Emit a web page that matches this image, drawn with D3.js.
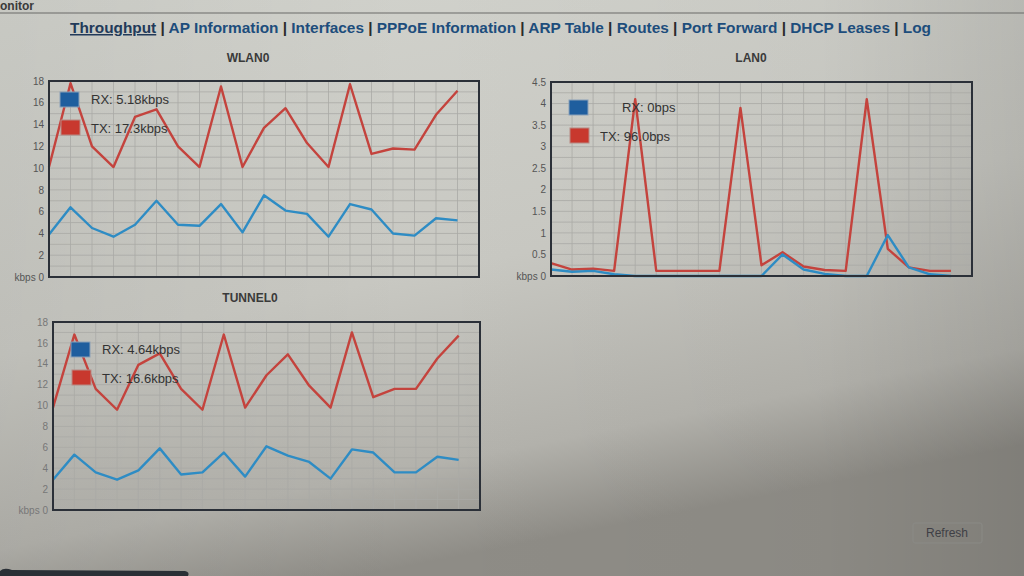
<!DOCTYPE html>
<html><head><meta charset="utf-8">
<script src="https://cdn.jsdelivr.net/npm/d3@7"></script>
<style>html,body{margin:0;padding:0;overflow:hidden;background:#c4c4be}</style>
</head><body><svg id="c" width="1024" height="576"></svg>
<script>
// ---------- data ----------
const navItems = ["Throughput","AP Information","Interfaces","PPPoE Information","ARP Table","Routes","Port Forward","DHCP Leases","Log"];
const samples = d3.range(20);
const wlanRx = [3.9,6.4,4.5,3.7,4.8,7.0,4.8,4.7,6.7,4.1,7.5,6.1,5.8,3.7,6.7,6.2,4.0,3.8,5.4,5.2];
const wlanTx = [10.1,17.8,12.0,10.1,14.7,15.4,12.0,10.1,17.5,10.1,13.7,15.5,12.3,10.1,17.7,11.3,11.8,11.7,14.9,17.1];
const lanRx  = [0.15,0.1,0.12,0.04,0,0,0,0,0,0,0,0.5,0.15,0.05,0,0,0.95,0.2,0.04,0];
const lanTx  = [0.3,0.15,0.17,0.12,4.1,0.12,0.12,0.12,0.12,3.9,0.25,0.55,0.22,0.14,0.12,4.1,0.63,0.2,0.12,0.12];
const tunRx  = [2.9,5.3,3.6,2.9,3.8,5.9,3.4,3.6,5.5,3.2,6.1,5.2,4.6,3.0,5.8,5.5,3.6,3.6,5.1,4.8];
const tunTx  = [9.8,16.8,11.6,9.6,13.9,15.0,11.6,9.6,16.8,9.8,12.9,14.9,11.9,9.8,17.0,10.8,11.6,11.6,14.5,16.7];
const kbpsTicks = [0,2,4,6,8,10,12,14,16,18];
const lanTicks = [0,0.5,1,1.5,2,2.5,3,3.5,4,4.5];
const charts = [
  {title:"WLAN0", rx:wlanRx, tx:wlanTx, rxLabel:"RX: 5.18kbps", txLabel:"TX: 17.3kbps", ticks:kbpsTicks, max:18, grid:1,
   box:[49,81,479,277], leg:[60,92], titleX:248, titleY:62, labCol:"#555"},
  {title:"LAN0", rx:lanRx, tx:lanTx, rxLabel:"RX: 0bps", txLabel:"TX: 96.0bps", ticks:lanTicks, max:4.5, grid:0.25,
   box:[551,82,972,276], leg:[569,100], titleX:751, titleY:62, labCol:"#555", rxOff:22},
  {title:"TUNNEL0", rx:tunRx, tx:tunTx, rxLabel:"RX: 4.64kbps", txLabel:"TX: 16.6kbps", ticks:kbpsTicks, max:18, grid:1,
   box:[53,322,480,510], leg:[71,342], titleX:250, titleY:302, labCol:"#777"}
];

const svg = d3.select("#c");
const defs = svg.append("defs");
const g1 = defs.append("linearGradient").attr("id","bg").attr("x1",0).attr("y1",0).attr("x2",0.35).attr("y2",1);
g1.append("stop").attr("offset","0%").attr("stop-color","#d2d3cd");
g1.append("stop").attr("offset","55%").attr("stop-color","#c8c8c2");
g1.append("stop").attr("offset","85%").attr("stop-color","#b3b2ac");
g1.append("stop").attr("offset","100%").attr("stop-color","#8e8c86");
const g2 = defs.append("linearGradient").attr("id","bg2").attr("x1",0).attr("y1",0).attr("x2",1).attr("y2",0);
g2.append("stop").attr("offset","0%").attr("stop-color","#000").attr("stop-opacity",0.05);
g2.append("stop").attr("offset","40%").attr("stop-color","#000").attr("stop-opacity",0);
g2.append("stop").attr("offset","80%").attr("stop-color","#000").attr("stop-opacity",0.02);
g2.append("stop").attr("offset","100%").attr("stop-color","#000").attr("stop-opacity",0.1);
svg.append("rect").attr("width",1024).attr("height",576).attr("fill","url(#bg)");
svg.append("rect").attr("width",1024).attr("height",576).attr("fill","url(#bg2)");

// header
svg.append("text").attr("x",0).attr("y",10).attr("font-family","Liberation Sans, Arial").attr("font-weight","bold")
  .attr("font-size",12).attr("fill","#3a3a3a").text("onitor");
svg.append("line").attr("x1",0).attr("x2",1024).attr("y1",13).attr("y2",13).attr("stroke","#6a6a68").attr("stroke-width",1.2);

// nav
const nav = svg.append("text").attr("x",70).attr("y",33).attr("font-family","Liberation Sans, Arial")
  .attr("font-weight","bold").attr("font-size",15).attr("fill","#1d4d7c")
  .attr("textLength",861).attr("lengthAdjust","spacingAndGlyphs");
navItems.forEach((t,i)=>{
  if(i>0) nav.append("tspan").attr("fill","#2a2a2a").text(" | ");
  const s = nav.append("tspan").text(t);
  if(i===0) s.attr("text-decoration","underline").attr("fill","#223a5a");
});

const font = "Liberation Sans, Arial, sans-serif";
charts.forEach(c=>{
  const [x0,y0,x1,y1] = c.box;
  const x = d3.scaleLinear().domain([0,20]).range([x0,x1]);
  const y = d3.scaleLinear().domain([0,c.max]).range([y1,y0]);
  const g = svg.append("g");
  svg.append("text").attr("x",c.titleX).attr("y",c.titleY).attr("text-anchor","middle")
    .attr("font-family",font).attr("font-weight","bold").attr("font-size",12).attr("fill","#3a3a3a").text(c.title);
  // grid
  const gy = d3.range(0, c.max + 1e-9, c.grid);
  g.selectAll(".hg").data(gy).join("line").attr("x1",x0).attr("x2",x1)
    .attr("y1",d=>y(d)).attr("y2",d=>y(d)).attr("stroke","#a9aaa6").attr("stroke-width",0.8);
  g.selectAll(".vg").data(d3.range(0,21)).join("line").attr("y1",y0).attr("y2",y1)
    .attr("x1",d=>x(d)).attr("x2",d=>x(d)).attr("stroke","#a9aaa6").attr("stroke-width",0.8);
  // axis labels
  const ax = g.append("g").attr("transform",`translate(${x0-5},0)`)
    .call(d3.axisLeft(y).tickValues(c.ticks).tickSize(0).tickPadding(0)
      .tickFormat(d=> d===0 ? "kbps 0" : d3.format("~g")(d)));
  ax.select(".domain").remove();
  ax.selectAll("text").attr("font-family",font).attr("font-size",10).attr("fill",c.labCol);
  // lines
  const line = d3.line().x((d,i)=>x(samples[i])).y(d=>y(d));
  g.append("path").datum(c.tx).attr("d",line).attr("fill","none").attr("stroke","#c4433d")
    .attr("stroke-width",2.4).attr("stroke-linejoin","round");
  g.append("path").datum(c.rx).attr("d",line).attr("fill","none").attr("stroke","#2e8cc4")
    .attr("stroke-width",2.4).attr("stroke-linejoin","round");
  // border
  g.append("rect").attr("x",x0).attr("y",y0).attr("width",x1-x0).attr("height",y1-y0)
    .attr("fill","none").attr("stroke","#2b3038").attr("stroke-width",2);
  // legend
  const [lx,ly] = c.leg;
  g.append("rect").attr("x",lx).attr("y",ly).attr("width",19).attr("height",15).attr("fill","#1f5e9e")
    .attr("stroke","#8aa0b8").attr("stroke-width",1);
  g.append("rect").attr("x",lx+1).attr("y",ly+28).attr("width",19).attr("height",15).attr("fill","#c8382e")
    .attr("stroke","#b88a84").attr("stroke-width",1);
  g.append("text").attr("x",lx+31+(c.rxOff||0)).attr("y",ly+12).attr("font-family",font).attr("font-size",13)
    .attr("fill","#333").text(c.rxLabel);
  g.append("text").attr("x",lx+31).attr("y",ly+41).attr("font-family",font).attr("font-size",13)
    .attr("fill","#333").text(c.txLabel);
});

// refresh button
svg.append("rect").attr("x",913).attr("y",523).attr("width",69).attr("height",20).attr("rx",2)
  .attr("fill","none").attr("stroke","#8a8a86").attr("stroke-width",1);
svg.append("text").attr("x",947).attr("y",537).attr("text-anchor","middle").attr("font-family",font)
  .attr("font-size",12).attr("fill","#3f3f45").text("Refresh");
// bottom edge artifact
svg.append("path").attr("d","M0,576 L0,571 Q4,567 12,570 L185,571 Q190,572 188,576 Z").attr("fill","#2a3036");
</script></body></html>
